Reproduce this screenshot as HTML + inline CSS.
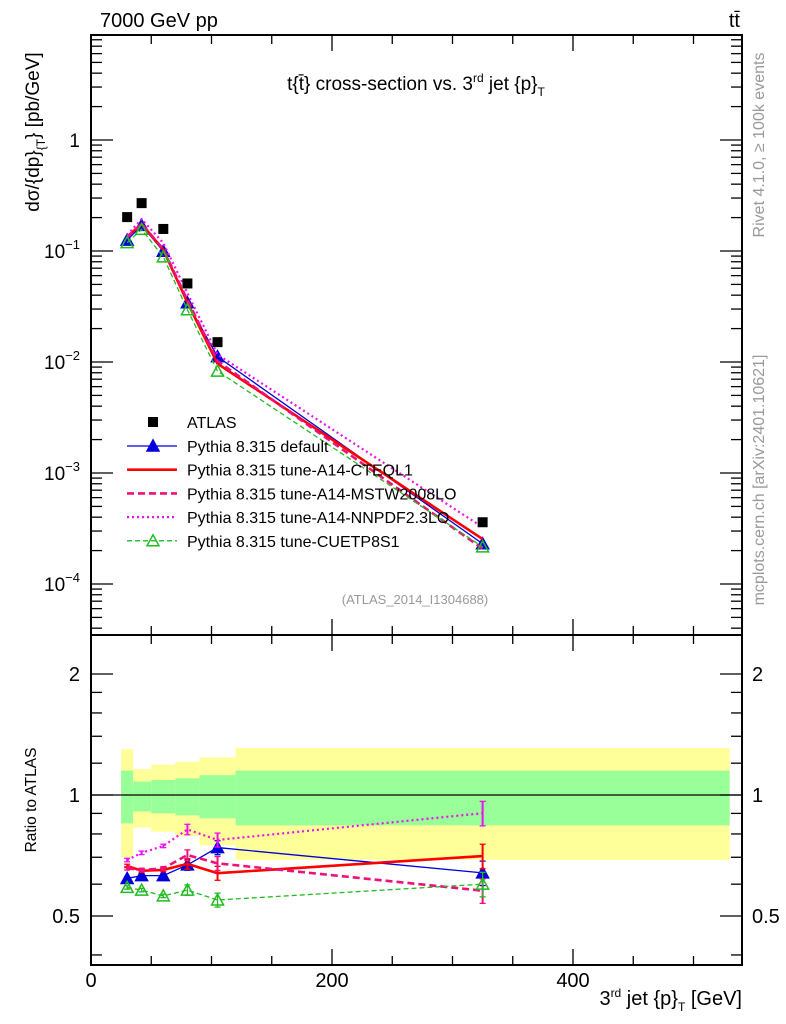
<!DOCTYPE html>
<html><head><meta charset="utf-8"><style>
body{margin:0;background:#fff;}
svg{display:block;font-family:"Liberation Sans","DejaVu Sans",sans-serif;}
</style></head><body>
<svg id="chart" width="786" height="1024" viewBox="0 0 786 1024">
<g id="bands"></g>
<g id="axes"></g>
<g id="series"></g>
<g id="legend"></g>
<text x="100" y="27" font-size="20">7000 GeV pp</text>
<text x="740" y="27" font-size="20" text-anchor="end">tt̄</text>
<text x="416" y="90" font-size="19" text-anchor="middle">t{t̄} cross-section vs. 3<tspan font-size="12" dy="-8">rd</tspan><tspan dy="8"> jet {p}</tspan><tspan font-size="12" dy="6">T</tspan></text>
<text x="415" y="604" font-size="13" fill="#999" text-anchor="middle">(ATLAS_2014_I1304688)</text>
<text transform="translate(39,132) rotate(-90)" font-size="19" text-anchor="middle">dσ/{dp}<tspan font-size="12" dy="6">{T</tspan><tspan dy="-6">} [pb/GeV]</tspan></text>
<text transform="translate(36,800) rotate(-90)" font-size="15.5" text-anchor="middle">Ratio to ATLAS</text>
<text x="742" y="1005" font-size="20" text-anchor="end">3<tspan font-size="12" dy="-8">rd</tspan><tspan dy="8"> jet {p}</tspan><tspan font-size="12" dy="6">T</tspan><tspan dy="-6"> [GeV]</tspan></text>
<text transform="translate(764,145) rotate(-90)" font-size="16" fill="#999" text-anchor="middle">Rivet 4.1.0, ≥ 100k events</text>
<text transform="translate(764,480) rotate(-90)" font-size="16" fill="#999" text-anchor="middle">mcplots.cern.ch [arXiv:2401.10621]</text>
</svg>
<script>
const xCenters=[30,42,60,80,105,325];
const binEdges=[25,35,50,70,90,120,530];
const atlas=[0.202,0.27,0.158,0.051,0.0151,0.00036];
const rDefault=[0.62,0.63,0.63,0.67,0.74,0.64];
const rCTEQ=[0.666,0.648,0.651,0.674,0.639,0.705];
const rMSTW=[0.657,0.651,0.657,0.709,0.676,0.578];
const rNNPDF=[0.689,0.718,0.747,0.821,0.773,0.901];
const rCUETP=[0.589,0.580,0.561,0.580,0.548,0.600];
const rErr=[0.01,0.01,0.01,0.03,0.04,0.07];
const yellowHi=[1.30,1.16,1.19,1.21,1.24,1.31];
const greenHi=[1.15,1.08,1.09,1.10,1.12,1.15];
const greenLo=[0.85,0.91,0.90,0.89,0.875,0.84];
const yellowLo=[0.70,0.83,0.81,0.79,0.75,0.69];
const xTicks=[0,200,400];
const yTicksMain=[-4,-3,-2,-1,0];
const yTicksRatio=[0.5,1,2];

const NS='http://www.w3.org/2000/svg';
const L=91,R=742,T=35,MB=635,B=965;
const X=v=>L+v*1.205;
const Y=v=>140-111*Math.log10(v);
const YR=v=>795-121*Math.log2(v);
function mk(tag,attrs,parent){const e=document.createElementNS(NS,tag);for(const k in attrs)e.setAttribute(k,attrs[k]);parent.appendChild(e);return e;}
const gB=document.getElementById('bands'),gA=document.getElementById('axes'),gS=document.getElementById('series'),gL=document.getElementById('legend');

for(let i=0;i<yellowHi.length;i++){
 const x0=X(binEdges[i]),x1=X(binEdges[i+1]);
 let r=mk('rect',{x:x0,y:YR(yellowHi[i]),width:x1-x0,height:YR(yellowLo[i])-YR(yellowHi[i]),fill:'#ffff99'},gB);
 
 
 r=mk('rect',{x:x0,y:YR(greenHi[i]),width:x1-x0,height:YR(greenLo[i])-YR(greenHi[i]),fill:'#99ff99'},gB);
 
 
}
let f=mk('rect',{x:L,y:T,width:R-L,height:MB-T,fill:'none',stroke:'#000','stroke-width':2},gA);


f=mk('rect',{x:L,y:MB,width:R-L,height:B-MB,fill:'none',stroke:'#000','stroke-width':2},gA);


mk('line',{x1:L,x2:R,y1:YR(1),y2:YR(1),stroke:'#000','stroke-width':1.3},gA);
for(let v=0;v<=540;v+=50){const major=v%200===0;const len=major?16:9;const x=X(v);if(x>R)break;
 mk('line',{x1:x,x2:x,y1:B,y2:B-len,stroke:'#000','stroke-width':1.3},gA);
 mk('line',{x1:x,x2:x,y1:MB,y2:MB-len,stroke:'#000','stroke-width':1.3},gA);
 mk('line',{x1:x,x2:x,y1:T,y2:T+len,stroke:'#000','stroke-width':1.3},gA);
 mk('line',{x1:x,x2:x,y1:MB,y2:MB+len,stroke:'#000','stroke-width':1.3},gA);}
xTicks.forEach(v=>{const t=mk('text',{x:X(v),y:987,'font-size':20,'text-anchor':'middle'},gA);t.textContent=v;
 
 });
for(let d=-5;d<=0;d++){for(let m=1;m<10;m++){const v=m*Math.pow(10,d);const y=Y(v);if(y<T||y>MB)continue;const len=m===1?22:11;
 mk('line',{x1:L,x2:L+len,y1:y,y2:y,stroke:'#000','stroke-width':1.3},gA);
 mk('line',{x1:R,x2:R-len,y1:y,y2:y,stroke:'#000','stroke-width':1.3},gA);}}
yTicksMain.forEach(d=>{const t=mk('text',{x:80,y:Y(Math.pow(10,d))+7,'font-size':19,'text-anchor':'end'},gA);
 if(d===0)t.textContent='1';else{t.textContent='10';const s=mk('tspan',{dy:-9,'font-size':13},t);s.textContent='−'+(-d);}
 
 });
[0.4,0.5,0.6,0.7,0.8,0.9,1,2].forEach(v=>{const y=YR(v);if(y>B)return;const len=(v===0.5||v===1||v===2)?22:11;
 mk('line',{x1:L,x2:L+len,y1:y,y2:y,stroke:'#000','stroke-width':1.3},gA);
 mk('line',{x1:R,x2:R-len,y1:y,y2:y,stroke:'#000','stroke-width':1.3},gA);});
[1.2,1.4,1.6,1.8].forEach(v=>{const y=YR(v);mk('line',{x1:L,x2:L+11,y1:y,y2:y,stroke:'#000','stroke-width':1.3},gA);mk('line',{x1:R,x2:R-11,y1:y,y2:y,stroke:'#000','stroke-width':1.3},gA);});
yTicksRatio.forEach(v=>{let t=mk('text',{x:80,y:YR(v)+7,'font-size':20,'text-anchor':'end'},gA);t.textContent=v;
 
 
 t=mk('text',{x:752,y:YR(v)+7,'font-size':20},gA);t.textContent=v;
 
 });

const series=[
 {name:'pythia-default',r:rDefault,color:'#0000dd',w:1.3,dash:'',marker:'tri-fill',label:'Pythia 8.315 default'},
 {name:'pythia-a14-cteql1',r:rCTEQ,color:'#ff0000',w:2.6,dash:'',marker:'none',label:'Pythia 8.315 tune-A14-CTEQL1'},
 {name:'pythia-a14-mstw2008lo',r:rMSTW,color:'#ee1177',w:2.6,dash:'7,4',marker:'none',label:'Pythia 8.315 tune-A14-MSTW2008LO'},
 {name:'pythia-a14-nnpdf23lo',r:rNNPDF,color:'#ee11ee',w:2.2,dash:'2,3',marker:'none',label:'Pythia 8.315 tune-A14-NNPDF2.3LO'},
 {name:'pythia-cuetp8s1',r:rCUETP,color:'#22bb22',w:1.3,dash:'5,3',marker:'tri-open',label:'Pythia 8.315 tune-CUETP8S1'}];
function tri(x,y,c,fill,p,name){const e=mk('polygon',{points:`${x},${y-6} ${x-6},${y+5} ${x+6},${y+5}`,fill:fill?c:'none',stroke:c,'stroke-width':1.5},p);
 
 }
series.forEach(s=>{
 const g=mk('g',{},gS);
 
 
 const main=s.r.map((r,i)=>[X(xCenters[i]),Y(atlas[i]*r)]);
 const rat=s.r.map((r,i)=>[X(xCenters[i]),YR(r)]);
 [main,rat].forEach(pts=>{const pl=mk('polyline',{points:pts.map(p=>p.join(',')).join(' '),fill:'none',stroke:s.color,'stroke-width':s.w,'stroke-dasharray':s.dash},g);
  
  });
 s.r.forEach((r,i)=>{const x=X(xCenters[i]);const y1=YR(r*(1+rErr[i])),y2=YR(r*(1-rErr[i]));
  mk('line',{x1:x,x2:x,y1:y1,y2:y2,stroke:s.color,'stroke-width':s.w>2?2:1.3},g);
  mk('line',{x1:x-3,x2:x+3,y1:y1,y2:y1,stroke:s.color,'stroke-width':1.3},g);
  mk('line',{x1:x-3,x2:x+3,y1:y2,y2:y2,stroke:s.color,'stroke-width':1.3},g);
  if(s.marker!=='none'){tri(x,Y(atlas[i]*r),s.color,s.marker==='tri-fill',g,s.name+'-marker');tri(x,YR(r),s.color,s.marker==='tri-fill',g,s.name+'-ratio-marker');}
 });
});
atlas.forEach((v,i)=>{const r=mk('rect',{x:X(xCenters[i])-5,y:Y(v)-5,width:10,height:10,fill:'#000'},gS);
 
 });

let ly=422;
let e=mk('rect',{x:148,y:ly-5,width:10,height:10,fill:'#000'},gL);


let t=mk('text',{x:187,y:ly+6,'font-size':16},gL);t.textContent='ATLAS';


series.forEach((s,i)=>{const y=446+i*23.7;
 const g=mk('g',{},gL);
 
 
 mk('line',{x1:127,x2:177,y1:y,y2:y,stroke:s.color,'stroke-width':s.w,'stroke-dasharray':s.dash},g);
 if(s.marker!=='none')tri(153,y,s.color,s.marker==='tri-fill',g,'legend-marker');
 const tt=mk('text',{x:187,y:y+6,'font-size':16},g);tt.textContent=s.label;});
</script>
</body></html>
